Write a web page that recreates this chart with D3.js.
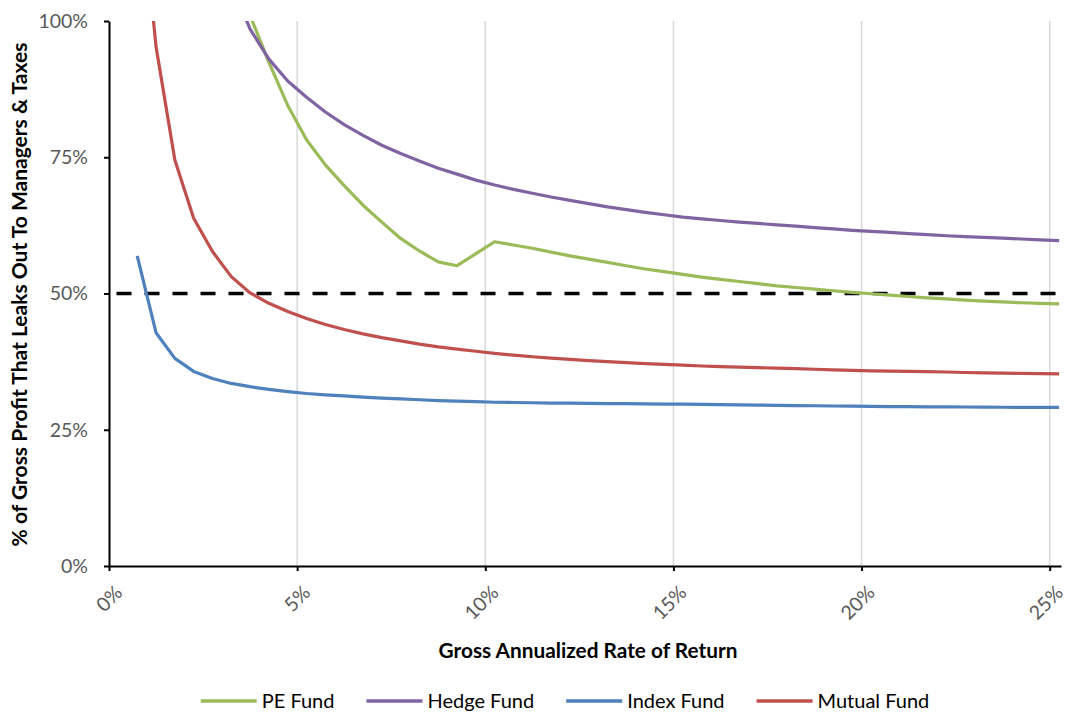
<!DOCTYPE html>
<html>
<head>
<meta charset="utf-8">
<script src="https://cdn.jsdelivr.net/npm/d3@7"></script>
<style>
  html, body { margin: 0; padding: 0; background: #fff; }
  svg { display: block; }
  text { font-family: Lato, "Open Sans", sans-serif; }
</style>
</head>
<body>
<svg id="chart" width="1066" height="713"></svg>
<script>
const rates = [0.75,1.25,1.75,2.25,2.75,3.25,3.75,4.25,4.75,5.25,5.75,6.25,6.75,7.25,7.75,8.25,8.75,9.25,9.75,10.25,10.75,11.25,11.75,12.25,12.75,13.25,13.75,14.25,14.75,15.25,15.75,16.25,16.75,17.25,17.75,18.25,18.75,19.25,19.75,20.25,20.75,21.25,21.75,22.25,22.75,23.25,23.75,24.25,24.75,25.25];
const peFund = [null,null,null,null,null,null,101,92.4,84.5,78.2,73.6,69.8,66.2,63.1,60.1,57.8,55.8,55.1,57.3,59.5,58.9,58.3,57.6,56.9,56.3,55.7,55.1,54.5,54.0,53.5,53.0,52.6,52.2,51.8,51.4,51.1,50.8,50.5,50.2,49.95,49.7,49.45,49.2,49.0,48.8,48.6,48.45,48.3,48.2,48.1];
const hedgeFund = [null,null,null,null,null,107,98.5,93.0,89.0,86.0,83.3,81.0,79.0,77.2,75.7,74.3,73.0,71.9,70.8,69.9,69.1,68.4,67.7,67.1,66.5,65.9,65.4,64.9,64.45,64.0,63.7,63.4,63.1,62.85,62.6,62.35,62.1,61.85,61.6,61.4,61.2,61.0,60.8,60.6,60.45,60.3,60.15,60.0,59.85,59.7];
const indexFund = [56.9,42.8,38.1,35.7,34.4,33.5,32.9,32.4,32.0,31.65,31.4,31.2,31.0,30.8,30.65,30.5,30.35,30.25,30.15,30.05,30.0,29.95,29.9,29.87,29.84,29.81,29.78,29.75,29.72,29.69,29.65,29.6,29.56,29.52,29.48,29.44,29.4,29.36,29.32,29.28,29.25,29.23,29.21,29.19,29.17,29.15,29.13,29.12,29.11,29.1];
const mutualFund = [130,95.3,74.5,63.8,57.7,53.1,50.1,48.2,46.7,45.4,44.3,43.4,42.6,41.9,41.3,40.7,40.2,39.8,39.4,39.0,38.7,38.4,38.15,37.9,37.7,37.5,37.3,37.15,37.0,36.85,36.7,36.6,36.5,36.4,36.3,36.2,36.1,36.0,35.9,35.8,35.75,35.7,35.65,35.6,35.5,35.45,35.4,35.35,35.3,35.25];
const seriesNames = ["PE Fund", "Hedge Fund", "Index Fund", "Mutual Fund"];
const seriesColors = ["#9BBB59", "#8064A2", "#4F81BD", "#C0504D"];
const xTicks = [0, 5, 10, 15, 20, 25];
const yTicks = [0, 25, 50, 75, 100];
const hurdleValue = 50;
const hurdleRange = [0.2, 25.25];
const xTitle = "Gross Annualized Rate of Return";
const yTitle = "% of Gross Profit That Leaks Out To Managers & Taxes";

const svg = d3.select("#chart");
const plot = {left: 109, right: 1061, top: 21, bottom: 566};
const x = d3.scaleLinear().domain([0, 25.3]).range([plot.left, plot.right]);
const y = d3.scaleLinear().domain([0, 100]).range([plot.bottom, plot.top]);

svg.append("defs").append("clipPath").attr("id", "clip")
  .append("rect").attr("x", plot.left).attr("y", plot.top)
  .attr("width", plot.right - plot.left + 10).attr("height", plot.bottom - plot.top);

// gridlines
svg.append("g").selectAll("line").data(xTicks.filter(d => d > 0)).join("line")
  .attr("x1", d => x(d)).attr("x2", d => x(d))
  .attr("y1", y(100)).attr("y2", y(0))
  .attr("stroke", "#D9D9D9").attr("stroke-width", 1.5);

// lines
const allSeries = [peFund, hedgeFund, indexFund, mutualFund];
const line = d3.line().defined(d => d[1] != null).x(d => x(d[0])).y(d => y(d[1]));
const lg = svg.append("g").attr("clip-path", "url(#clip)");

// hurdle dashed line
lg.append("path")
  .attr("d", d3.line().x(d => x(d)).y(() => y(hurdleValue))(hurdleRange))
  .attr("stroke", "#000").attr("stroke-width", 3.5).attr("fill", "none")
  .attr("stroke-dasharray", "15,13");

allSeries.forEach((vals, i) => {
  lg.append("path")
    .datum(rates.map((r, j) => [r, vals[j]]))
    .attr("d", line)
    .attr("fill", "none")
    .attr("stroke", seriesColors[i])
    .attr("stroke-width", 3.2)
    .attr("stroke-linejoin", "round");
});

// y axis
const yAxis = svg.append("g").attr("transform", `translate(${plot.left},0)`)
  .call(d3.axisLeft(y).tickValues(yTicks).tickFormat(d => d + "%").tickSize(5).tickSizeOuter(0));
yAxis.select(".domain").attr("stroke", "#000").attr("stroke-width", 2);
yAxis.selectAll(".tick line").attr("stroke", "#000").attr("stroke-width", 2);
yAxis.selectAll(".tick text").attr("fill", "#595959").attr("font-size", 19.5)
  .attr("font-family", "Lato, sans-serif").attr("x", -21);

// x axis
const xAxis = svg.append("g").attr("transform", `translate(0,${plot.bottom})`)
  .call(d3.axisBottom(x).tickValues(xTicks).tickFormat(d => d + "%").tickSize(5).tickSizeOuter(0));
xAxis.select(".domain").attr("stroke", "#000").attr("stroke-width", 2);
xAxis.selectAll(".tick line").attr("stroke", "#000").attr("stroke-width", 2);
xAxis.selectAll(".tick text").attr("fill", "#595959").attr("font-size", 19.5)
  .attr("font-family", "Lato, sans-serif")
  .attr("text-anchor", "end").attr("dy", null).attr("y", null)
  .attr("transform", "translate(14,28) rotate(-45)");

// axis titles
svg.append("text").attr("x", (plot.left + plot.right) / 2 + 3).attr("y", 658)
  .attr("text-anchor", "middle").attr("font-weight", "bold").attr("font-size", 20.8)
  .attr("fill", "#000").text(xTitle);
svg.append("text").attr("transform", `translate(27,${(plot.top + plot.bottom) / 2 + 1}) rotate(-90)`)
  .attr("text-anchor", "middle").attr("font-weight", "bold").attr("font-size", 21)
  .attr("fill", "#000").text(yTitle);

// legend
const legend = svg.append("g");
let cx = 0;
const swatch = 56, gapText = 5, gapItem = 32;
seriesNames.forEach((name, i) => {
  const g = legend.append("g").attr("transform", `translate(${cx},0)`);
  g.append("line").attr("x1", 0).attr("x2", swatch).attr("y1", 0).attr("y2", 0)
    .attr("stroke", seriesColors[i]).attr("stroke-width", 3.5);
  const t = g.append("text").attr("x", swatch + gapText).attr("y", 7)
    .attr("font-size", 20).attr("fill", "#000").text(name);
  const w = t.node().getComputedTextLength();
  cx += swatch + gapText + w + gapItem;
});
const totalW = cx - gapItem;
legend.attr("transform", `translate(${565 - totalW / 2},701)`);
</script>
</body>
</html>
